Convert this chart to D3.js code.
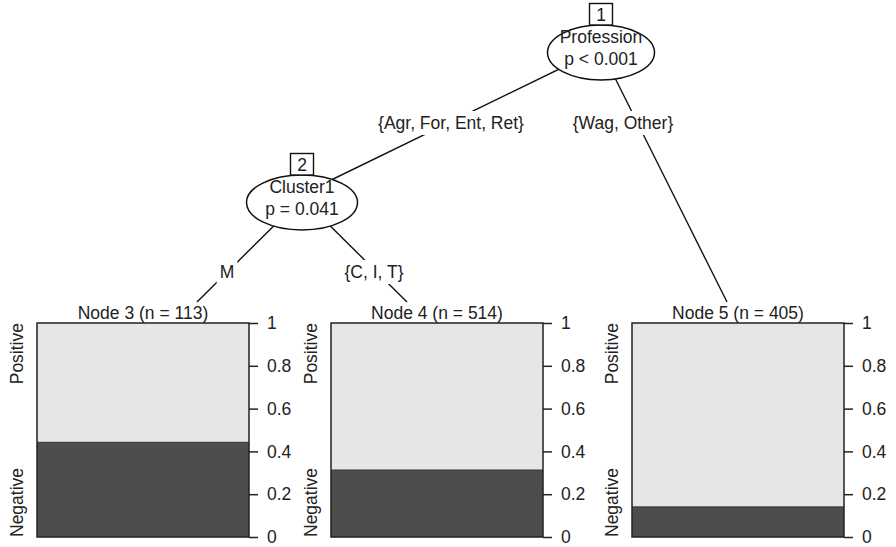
<!DOCTYPE html>
<html>
<head>
<meta charset="utf-8">
<script src="https://cdn.jsdelivr.net/npm/d3@7"></script>
<style>
  html, body { margin: 0; padding: 0; background: #fff; }
  svg { display: block; }
  text { font-family: "Liberation Sans", Arial, Helvetica, sans-serif; fill: #222; }
</style>
</head>
<body>
<svg id="chart" width="896" height="547"></svg>
<script>
// ---------- data ----------
const innerIds = [1, 2];
const innerVars = ["Profession", "Cluster1"];
const innerPvals = ["p < 0.001", "p = 0.041"];

const terminalIds = [3, 4, 5];
const terminalN = [113, 514, 405];
const negativeShare = [0.4425, 0.313, 0.1407];   // proportion "Negative"

const edgeFrom = [1, 1, 2, 2];
const edgeTo = [2, 5, 3, 4];
const edgeLabels = ["{Agr, For, Ent, Ret}", "{Wag, Other}", "M", "{C, I, T}"];

const classLabels = ["Positive", "Negative"];
const yTicks = [0, 0.2, 0.4, 0.6, 0.8, 1];
const tickLabels = ["0", "0.2", "0.4", "0.6", "0.8", "1"];

// ---------- layout ----------
const W = 896, H = 547;
const svg = d3.select("#chart");
const fontSize = 17.5;
const colLight = "#E6E6E6", colDark = "#4D4D4D";

// inner node layout
const innerX = d3.scaleOrdinal().domain(innerIds).range([601, 302]);
const innerY = d3.scaleOrdinal().domain(innerIds).range([52.5, 202.5]);
const innerRx = d3.scaleOrdinal().domain(innerIds).range([53.5, 55.5]);
const ry = 27.5;
// where edges meet the inner node
const joinX = d3.scaleOrdinal().domain(innerIds).range([600.5, 302]);
const joinY = d3.scaleOrdinal().domain(innerIds).range([49, 198]);
// entry point of the edge into a child (inner: under ellipse; terminal: above header)
const entryX = d3.scaleOrdinal().domain([2, 3, 4, 5]).range([288, 197, 407, 727]);
const entryY = d3.scaleOrdinal().domain([2, 3, 4, 5]).range([201, 302, 302, 302]);
const labelX = d3.scaleOrdinal().domain(edgeLabels).range([451, 623, 227, 374]);
const labelY = d3.scaleOrdinal().domain(edgeLabels).range([129, 129, 278, 278]);

// terminal panels
const panelLeft = d3.scaleOrdinal().domain(terminalIds).range([37, 331, 632]);
const panelW = 212;
const y = d3.scaleLinear().domain([0, 1]).range([537, 323]);

// ---------- edges ----------
const edges = edgeFrom.map((f, i) => ({ f, t: edgeTo[i], label: edgeLabels[i] }));
svg.append("g").selectAll("line").data(edges).join("line")
  .attr("x1", d => joinX(d.f)).attr("y1", d => joinY(d.f))
  .attr("x2", d => entryX(d.t)).attr("y2", d => entryY(d.t))
  .attr("stroke", "#111").attr("stroke-width", 1.4);

// edge labels with white background
const eg = svg.append("g").selectAll("g").data(edges).join("g");
eg.append("text")
  .attr("x", d => labelX(d.label)).attr("y", d => labelY(d.label))
  .attr("text-anchor", "middle").attr("font-size", fontSize)
  .text(d => d.label);
eg.each(function() {
  const g = d3.select(this);
  const bb = g.select("text").node().getBBox();
  g.insert("rect", "text")
    .attr("x", bb.x - 3).attr("y", bb.y - 2)
    .attr("width", bb.width + 6).attr("height", bb.height + 4)
    .attr("fill", "#fff");
});

// ---------- inner nodes ----------
const inner = innerIds.map((id, i) => ({ id, v: innerVars[i], p: innerPvals[i] }));
const ig = svg.append("g").selectAll("g").data(inner).join("g");
ig.append("ellipse")
  .attr("cx", d => innerX(d.id)).attr("cy", d => innerY(d.id))
  .attr("rx", d => innerRx(d.id)).attr("ry", ry)
  .attr("fill", "#fff").attr("stroke", "#111").attr("stroke-width", 1.5);
ig.append("text")
  .attr("x", d => innerX(d.id)).attr("y", d => innerY(d.id) - 9.5)
  .attr("text-anchor", "middle").attr("font-size", fontSize).text(d => d.v);
ig.append("text")
  .attr("x", d => innerX(d.id)).attr("y", d => innerY(d.id) + 12.5)
  .attr("text-anchor", "middle").attr("font-size", fontSize).text(d => d.p);
ig.append("rect")
  .attr("x", d => innerX(d.id) - 11.5).attr("y", d => innerY(d.id) - ry - 21.5)
  .attr("width", 23).attr("height", 21.5)
  .attr("fill", "#fff").attr("stroke", "#111").attr("stroke-width", 1.4);
ig.append("text")
  .attr("x", d => innerX(d.id)).attr("y", d => innerY(d.id) - ry - 4.5)
  .attr("text-anchor", "middle").attr("font-size", fontSize).text(d => d.id);

// ---------- terminal nodes ----------
const terms = terminalIds.map((id, i) => ({ id, n: terminalN[i], neg: negativeShare[i] }));
const tg = svg.append("g").selectAll("g").data(terms).join("g")
  .attr("transform", d => `translate(${panelLeft(d.id)},0)`);

// header
tg.append("text")
  .attr("x", panelW / 2).attr("y", 318.5)
  .attr("text-anchor", "middle").attr("font-size", fontSize)
  .text(d => `Node ${d.id} (n = ${d.n})`);

// stacked bar: Positive (light) on top, Negative (dark) at bottom
tg.append("rect")
  .attr("x", 0).attr("width", panelW)
  .attr("y", y(1)).attr("height", d => y(d.neg) - y(1))
  .attr("fill", colLight);
tg.append("rect")
  .attr("x", 0).attr("width", panelW)
  .attr("y", d => y(d.neg)).attr("height", d => y(0) - y(d.neg))
  .attr("fill", colDark);
tg.append("line")
  .attr("x1", 0).attr("x2", panelW)
  .attr("y1", d => y(d.neg)).attr("y2", d => y(d.neg))
  .attr("stroke", "#333").attr("stroke-width", 1);
tg.append("rect")
  .attr("x", 0).attr("width", panelW).attr("y", y(1)).attr("height", y(0) - y(1))
  .attr("fill", "none").attr("stroke", "#222").attr("stroke-width", 1.5);

// right axis
tg.each(function() {
  const g = d3.select(this).append("g").attr("transform", `translate(${panelW},0)`);
  const axis = d3.axisRight(y).tickValues(yTicks)
    .tickFormat((d, i) => tickLabels[i]).tickSize(9).tickPadding(9);
  g.call(axis);
  g.select(".domain").remove();
  g.selectAll(".tick line").attr("stroke", "#222").attr("stroke-width", 1.5);
  g.selectAll(".tick text")
    .attr("font-size", fontSize)
    .attr("font-family", '"Liberation Sans", Arial, Helvetica, sans-serif')
    .attr("fill", "#222");
});

// class labels, rotated
tg.append("text")
  .attr("transform", `translate(-14,${y(1)}) rotate(-90)`)
  .attr("text-anchor", "end").attr("font-size", fontSize)
  .text(classLabels[0]);
tg.append("text")
  .attr("transform", `translate(-14,${y(0)}) rotate(-90)`)
  .attr("text-anchor", "start").attr("font-size", fontSize)
  .text(classLabels[1]);
</script>
</body>
</html>
